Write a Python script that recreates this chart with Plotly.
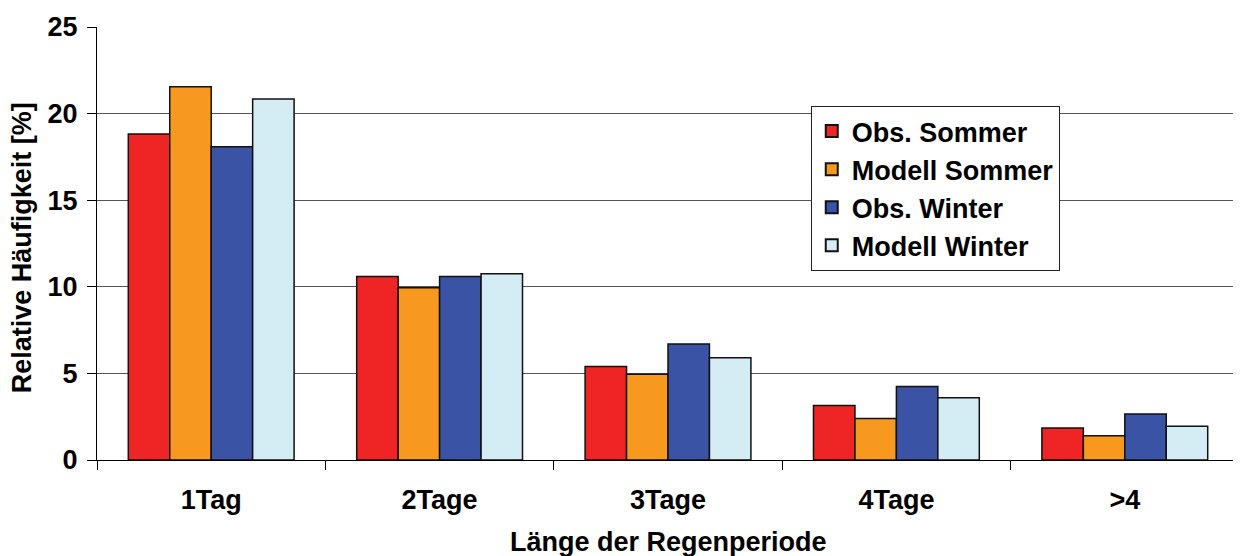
import plotly.graph_objects as go

categories = ["1Tag", "2Tage", "3Tage", "4Tage", ">4"]
obs_sommer = [18.82, 10.6, 5.4, 3.15, 1.85]
modell_sommer = [21.55, 9.95, 4.95, 2.4, 1.4]
obs_winter = [18.09, 10.6, 6.7, 4.25, 2.65]
modell_winter = [20.84, 10.75, 5.9, 3.6, 1.95]

series = [
    ("Obs. Sommer", obs_sommer, "#EE2524"),
    ("Modell Sommer", modell_sommer, "#F7991F"),
    ("Obs. Winter", obs_winter, "#3A53A4"),
    ("Modell Winter", modell_winter, "#D4ECF3"),
]

FONT = "Liberation Sans, Arial, sans-serif"
FS = 27
BOLD = dict(family=FONT, size=FS, color="black", weight="bold")

fig = go.Figure()
for name, vals, col in series:
    fig.add_trace(go.Bar(
        x=categories, y=vals, name=name, legendgroup=name,
        marker=dict(color=col, line=dict(color="#111111", width=1.5)),
    ))

# page body has an 8px offset; compensate so plot area sits at x 97..1239, y 27..460
fig.update_layout(
    width=1233, height=548,
    margin=dict(l=89, r=2, t=19, b=96),
    paper_bgcolor="white", plot_bgcolor="white",
    barmode="group", bargap=0.274, bargroupgap=0,
    font=dict(family=FONT, size=FS, color="black"),
    legend=dict(
        x=0.625, y=0.8175, xanchor="left", yanchor="top",
        bgcolor="white", bordercolor="#222222", borderwidth=1,
        font=BOLD, tracegroupgap=0, itemsizing="constant",
    ),
    showlegend=True,
)
fig.update_xaxes(
    type="category", tickson="boundaries", automargin=False,
    ticks="outside", ticklen=9, tickcolor="black", tickwidth=1,
    ticklabelstandoff=16,
    showline=True, linecolor="black", linewidth=1,
    tickfont=BOLD, showgrid=False,
)
fig.update_yaxes(
    range=[0, 25], tickvals=[0, 5, 10, 15, 20, 25], automargin=False,
    ticks="outside", ticklen=9, tickcolor="black", tickwidth=1,
    ticklabelstandoff=4,
    showline=True, linecolor="black", linewidth=1,
    showgrid=True, gridcolor="#555555", gridwidth=1,
    zeroline=False, tickfont=BOLD,
)
fig.add_annotation(text="Länge der Regenperiode", xref="paper", yref="paper",
                   x=0.5, y=-0.19, xanchor="center", yanchor="middle",
                   showarrow=False, font=BOLD)
fig.add_annotation(text="Relative Häufigkeit [%]", xref="paper", yref="paper",
                   x=-0.0657, y=0.491, xanchor="center", yanchor="middle",
                   textangle=-90, showarrow=False, font=BOLD)
fig.add_shape(type="line", xref="paper", yref="paper", x0=1, x1=1, y0=-0.023, y1=1,
              line=dict(color="#888888", width=2))

fig.write_html("out.html")
